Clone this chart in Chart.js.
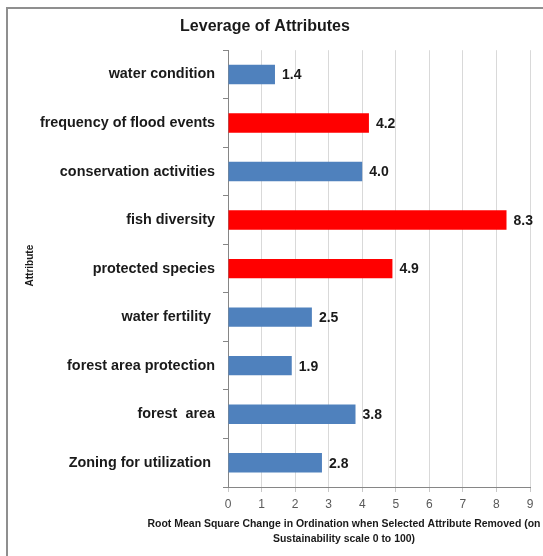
<!DOCTYPE html>
<html>
<head>
<meta charset="utf-8">
<script src="https://cdn.jsdelivr.net/npm/chart.js@4.4.1/dist/chart.umd.min.js"></script>
<style>
    html, body { margin: 0; padding: 0; background: #fff; }
    #wrap { position: relative; width: 543px; height: 556px; }
</style>
</head>
<body>
<div id="wrap"><canvas id="leverageChart" width="543" height="556"></canvas></div>
<script>
// Leverage of attributes (RMS change in ordination)
const attributes = [
    'water condition',
    'frequency of flood events',
    'conservation activities',
    'fish diversity',
    'protected species',
    'water fertility ',
    'forest area protection',
    'forest  area',
    'Zoning for utilization '
];
const leverage = [1.4, 4.2, 4.0, 8.3, 4.9, 2.5, 1.9, 3.8, 2.8];
const keyAttributes = ['frequency of flood events', 'fish diversity', 'protected species'];
const xTicks = [0, 1, 2, 3, 4, 5, 6, 7, 8, 9];
const xTitle = ['Root Mean Square Change in Ordination when Selected Attribute Removed (on',
                'Sustainability scale 0 to 100)'];
const yTitle = 'Attribute';

const barColors = attributes.map(a => keyAttributes.includes(a) ? '#ff0000' : '#4f81bd');

// frame lines on the left and top, like the original picture
const framePlugin = {
    id: 'frame',
    beforeDraw(chart) {
        const ctx = chart.ctx;
        ctx.save();
        ctx.fillStyle = '#8f8f8f';
        ctx.fillRect(6, 7, 2, chart.height);
        ctx.fillRect(6, 7, chart.width, 2);
        ctx.restore();
    }
};

// value labels at bar ends + axis titles
const labelPlugin = {
    id: 'labels',
    afterDatasetsDraw(chart) {
        const ctx = chart.ctx;
        const meta = chart.getDatasetMeta(0);
        ctx.save();
        ctx.font = 'bold 14px "Liberation Sans", Arial, sans-serif';
        ctx.fillStyle = '#1a1a1a';
        ctx.textAlign = 'left';
        ctx.textBaseline = 'middle';
        meta.data.forEach((bar, i) => {
            ctx.fillText(leverage[i].toFixed(1), bar.x + 7, bar.y + 1);
        });

        // x axis title (squeezed to the narrow width of the original font)
        ctx.font = 'bold 11.5px "Liberation Sans", Arial, sans-serif';
        ctx.textAlign = 'center';
        ctx.fillStyle = '#1a1a1a';
        ctx.fillText(xTitle[0], 344, 524, 393);
        ctx.fillText(xTitle[1], 344, 538.5, 142);

        // y axis title
        ctx.translate(30, chart.chartArea.top + (chart.chartArea.bottom - chart.chartArea.top) / 2 - 3);
        ctx.rotate(-Math.PI / 2);
        ctx.font = 'bold 10px "Liberation Sans", Arial, sans-serif';
        ctx.fillText(yTitle, 0, 0);
        ctx.restore();
    }
};

new Chart(document.getElementById('leverageChart'), {
    type: 'bar',
    data: {
        labels: attributes,
        datasets: [{
            label: 'Leverage',
            data: leverage,
            backgroundColor: barColors,
            borderWidth: 0,
            barPercentage: 0.5,
            categoryPercentage: 0.8
        }]
    },
    options: {
        indexAxis: 'y',
        responsive: false,
        animation: false,
        layout: {
            padding: { top: 0, right: 13, bottom: 0, left: 0 }
        },
        plugins: {
            legend: { display: false },
            tooltip: { enabled: false },
            title: {
                display: true,
                text: 'Leverage of Attributes',
                color: '#1a1a1a',
                font: { family: '"Liberation Sans", Arial, sans-serif', size: 16, weight: 'bold' },
                padding: { top: 17, bottom: 14 }
            }
        },
        scales: {
            x: {
                min: 0,
                max: 9,
                afterBuildTicks(scale) {
                    scale.ticks = xTicks.map(v => ({ value: v }));
                },
                afterFit(scale) {
                    scale.height = 69;
                },
                grid: {
                    color: '#d9d9d9',
                    tickLength: 5,
                    tickColor: '#c8c8c8'
                },
                border: { color: '#868686' },
                ticks: {
                    color: '#595959',
                    padding: 5,
                    font: { family: '"Liberation Sans", Arial, sans-serif', size: 12 }
                }
            },
            y: {
                afterFit(scale) {
                    scale.width = 228;
                },
                grid: {
                    drawOnChartArea: false,
                    color: '#868686',
                    tickLength: 5,
                    offset: true
                },
                border: { color: '#868686' },
                ticks: {
                    color: '#1a1a1a',
                    padding: 8,
                    autoSkip: false,
                    font: { family: '"Liberation Sans", Arial, sans-serif', size: 14.4, weight: 'bold' }
                }
            }
        }
    },
    plugins: [framePlugin, labelPlugin]
});
</script>
</body>
</html>
